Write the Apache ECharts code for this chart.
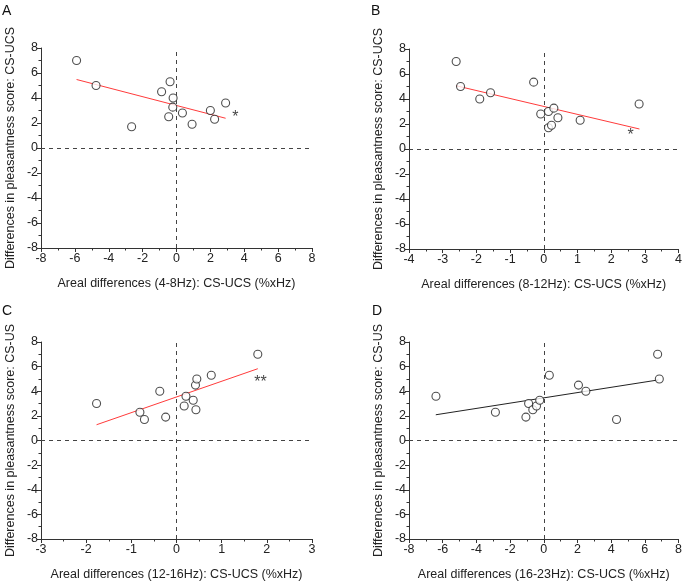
<!DOCTYPE html>
<html>
<head>
<meta charset="utf-8">
<script src="https://cdn.jsdelivr.net/npm/echarts@6/dist/echarts.min.js"></script>
<style>html,body{margin:0;padding:0;background:#fff}#c{width:685px;height:582px}</style>
</head>
<body>
<div id="c"></div>
<script>
// Panel labels and axis titles
const panelLabels = ['A', 'B', 'C', 'D'];
const xTitles = [
  'Areal differences (4-8Hz): CS-UCS (%xHz)',
  'Areal differences (8-12Hz): CS-UCS (%xHz)',
  'Areal differences (12-16Hz): CS-UCS (%xHz)',
  'Areal differences (16-23Hz): CS-UCS (%xHz)'
];
const yTitles = [
  'Differences in pleasantness score: CS-UCS',
  'Differences in pleasantness score: CS-UCS',
  'Differences in pleasantness score: CS-US',
  'Differences in pleasantness score: CS-US'
];
// x-axis ranges [min, max, interval]
const xRanges = [[-8, 8, 2], [-4, 4, 1], [-3, 3, 1], [-8, 8, 2]];
const yRange = [-8, 8, 2];

// Scatter points [x, y]
const pointsA = [[-5.9,7.0],[-4.75,5.0],[-2.65,1.7],[-0.88,4.5],[-0.38,5.3],[-0.2,4.0],[-0.22,3.27],[-0.46,2.5],[0.35,2.8],[0.92,1.9],[2.0,3.0],[2.25,2.3],[2.9,3.6]];
const pointsB = [[-2.6,7.0],[-2.47,5.0],[-1.9,4.0],[-1.58,4.5],[-0.3,5.35],[-0.09,2.8],[0.14,3.0],[0.3,3.27],[0.14,1.7],[0.23,1.9],[0.42,2.5],[1.08,2.3],[2.83,3.6]];
const pointsC = [[-1.77,3.0],[-0.81,2.3],[-0.71,1.7],[-0.37,4.0],[-0.24,1.9],[0.21,3.6],[0.17,2.8],[0.37,3.27],[0.42,4.5],[0.45,5.0],[0.43,2.5],[0.77,5.3],[1.8,7.0]];
const pointsD = [[-6.4,3.6],[-2.87,2.3],[-1.06,1.9],[-0.9,3.0],[-0.65,2.5],[-0.43,2.8],[-0.24,3.27],[0.33,5.3],[2.06,4.5],[2.5,4.0],[4.32,1.7],[6.76,7.0],[6.86,5.0]];

// Regression line endpoints
const fitA = [[-5.9,5.48],[2.9,2.38]];
const fitB = [[-2.6,5.06],[2.84,1.6]];
const fitC = [[-1.77,1.28],[1.8,5.83]];
const fitD = [[-6.41,2.09],[6.8,4.92]];
const fitColors = ['#ff3b3b', '#ff3b3b', '#ff3b3b', '#222'];

// Significance marks [x, y, text]
const sigA = [3.47, 2.45, '*'];
const sigB = [2.58, 1.1, '*'];
const sigC = [1.86, 4.7, '**'];

const allPoints = [pointsA, pointsB, pointsC, pointsD];
const allFits = [fitA, fitB, fitC, fitD];
const allSig = [sigA, sigB, sigC, null];

const FONT = 'Liberation Sans, Arial, sans-serif';
const grids = [
  {left: 41, top: 48, width: 271, height: 200},
  {left: 409, top: 49, width: 271, height: 200},
  {left: 41, top: 342, width: 271, height: 200},
  {left: 409, top: 342, width: 271, height: 200}
];
const labelPos = [[2, 4], [371, 4], [2, 304], [372, 304]];

const option = {
  animation: false,
  backgroundColor: '#fff',
  textStyle: {fontFamily: FONT},
  title: panelLabels.map((t, i) => ({
    text: t, left: labelPos[i][0], top: labelPos[i][1], padding: 0,
    textStyle: {fontSize: 14, fontWeight: 'normal', color: '#111', fontFamily: FONT}
  })),
  grid: grids,
  xAxis: xRanges.map((r, i) => ({
    type: 'value', gridIndex: i, min: r[0], max: r[1], interval: r[2],
    name: xTitles[i], nameLocation: 'middle', nameGap: 29,
    nameTextStyle: {fontSize: 12.5, color: '#222', fontFamily: FONT},
    axisLine: {show: true, onZero: false, lineStyle: {color: '#333', width: 1}},
    axisTick: {show: true, inside: false, length: 4, lineStyle: {color: '#333'}},
    minorTick: {show: true, splitNumber: 2, length: 2.5, lineStyle: {color: '#333'}},
    splitLine: {show: false},
    axisLabel: {fontSize: 12.5, color: '#222', margin: 4, fontFamily: FONT}
  })),
  yAxis: xRanges.map((r, i) => ({
    type: 'value', gridIndex: i, min: yRange[0], max: yRange[1], interval: yRange[2],
    name: yTitles[i], nameLocation: 'middle', nameGap: 24, nameRotate: 90,
    nameTextStyle: {fontSize: 12.5, color: '#222', fontFamily: FONT},
    axisLine: {show: true, onZero: false, lineStyle: {color: '#333', width: 1}},
    axisTick: {show: true, inside: false, length: 4, lineStyle: {color: '#333'}},
    minorTick: {show: true, splitNumber: 2, length: 2.5, lineStyle: {color: '#333'}},
    splitLine: {show: false},
    axisLabel: {fontSize: 12.5, color: '#222', margin: 3, fontFamily: FONT}
  })),
  series: []
};

for (let i = 0; i < 4; i++) {
  // zero reference lines
  option.series.push({
    type: 'line', xAxisIndex: i, yAxisIndex: i, data: [], silent: true,
    markLine: {
      silent: true, symbol: 'none', label: {show: false},
      lineStyle: {type: [4, 4], color: '#444', width: 1},
      data: [{xAxis: 0}, {yAxis: 0}]
    }
  });
  option.series.push({
    type: 'line', xAxisIndex: i, yAxisIndex: i, data: allFits[i],
    symbol: 'none', lineStyle: {color: fitColors[i], width: 1}, z: 3
  });
  option.series.push({
    type: 'scatter', xAxisIndex: i, yAxisIndex: i, data: allPoints[i],
    symbol: 'circle', symbolSize: 8,
    itemStyle: {color: '#fff', borderColor: '#222', borderWidth: 1.1}, z: 4
  });
  if (allSig[i]) {
    const s = allSig[i];
    option.series.push({
      type: 'scatter', xAxisIndex: i, yAxisIndex: i,
      data: [[s[0], s[1]]], symbolSize: 0,
      label: {show: true, position: 'inside', formatter: s[2], fontSize: 16, color: '#111', fontFamily: FONT}
    });
  }
}

const chart = echarts.init(document.getElementById('c'), null, {renderer: 'canvas'});
chart.setOption(option);
</script>
</body>
</html>
